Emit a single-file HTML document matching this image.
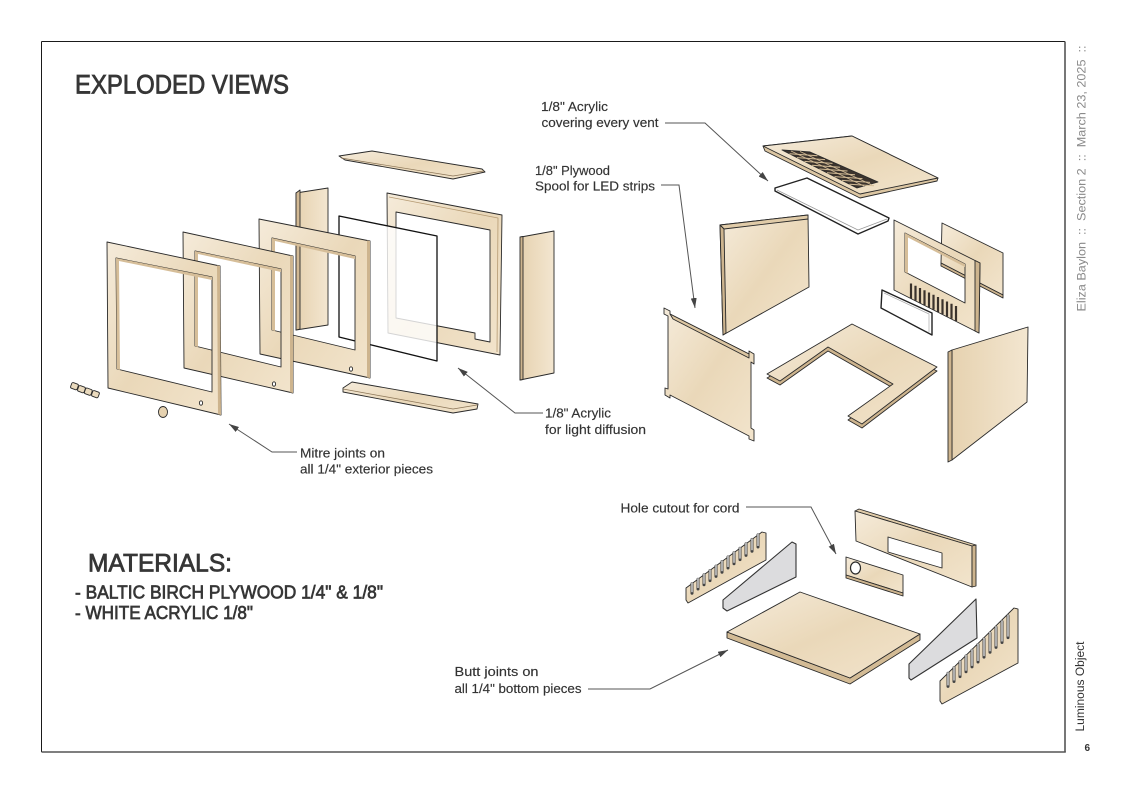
<!DOCTYPE html>
<html><head><meta charset="utf-8"><style>
html,body{margin:0;padding:0;background:#fff;}
svg{display:block;}
text{font-family:"Liberation Sans",sans-serif;}
</style></head><body>
<svg width="1122" height="793" viewBox="0 0 1122 793" xmlns="http://www.w3.org/2000/svg">
<defs>
<linearGradient id="w" x1="0" y1="0" x2="1" y2="1">
<stop offset="0" stop-color="#f5ebda"/><stop offset="0.5" stop-color="#ead8b9"/><stop offset="1" stop-color="#f2e4cc"/>
</linearGradient>
<linearGradient id="w2" x1="0" y1="0" x2="1" y2="0">
<stop offset="0" stop-color="#e6d2b0"/><stop offset="1" stop-color="#f3e6d0"/>
</linearGradient>
<marker id="ah" markerWidth="10" markerHeight="6" refX="10" refY="3" orient="auto" markerUnits="userSpaceOnUse">
<path d="M0,0 L10,3 L0,6 Z" fill="#444"/>
</marker>
</defs>
<rect width="1122" height="793" fill="#fff"/>
<!-- page frame -->
<line x1="41.5" y1="41.5" x2="1065" y2="41.5" stroke="#1a1a1a" stroke-width="1"/>
<line x1="41.5" y1="41.5" x2="41.5" y2="752" stroke="#1a1a1a" stroke-width="1"/>
<line x1="1065" y1="41.5" x2="1065" y2="752" stroke="#555" stroke-width="1.6"/>
<line x1="41.5" y1="752" x2="1065.8" y2="752" stroke="#555" stroke-width="1.6"/>

<g stroke="#2a2a2a" stroke-width="0.9" stroke-linejoin="round">
<!-- ===== LEFT GROUP ===== -->
<polygon points="521,237 554,231 554,373 520,380" fill="url(#w2)"/>
<polygon points="520,237 523,236.5 523,379.5 520,380" fill="#cdb48e"/>
<polygon points="339,156 372,151 482,169 485,172 453,179 345,160" fill="url(#w)"/>
<polyline points="341,158 453,176 484,171" fill="none" stroke="#8a7456" stroke-width="0.7"/>
<path fill-rule="evenodd" fill="url(#w)" d="M387,193 L502,215 L500,355 L388,333 Z M396,212 L490,230 L490,342 L475,339 L475,333 L396,318 Z"/>
<polyline points="389,197 498,218 497,352" fill="none" stroke="#b59a72" stroke-width="0.8"/>
<polygon points="339,216 437,236 437,361 339,337" fill="#fff" fill-opacity="0.8" stroke="#111" stroke-width="1.3"/>
<polygon points="296,193 328,188 328,325 296,330" fill="url(#w2)"/>
<polygon points="296,193 300,190 300,329 296,330" fill="#d2b994"/>
<polygon points="343,388 352,382 478,404 477,409 453,413 343,392" fill="url(#w)"/>
<polyline points="343,389 453,409 477,405" fill="none" stroke="#8a7456" stroke-width="0.7"/>
<!-- frame 3 -->
<path fill-rule="evenodd" fill="url(#w)" d="M259,219 L370,241 L370,378 L260,354 Z M272,238 L355,256 L355,350 L272,330 Z"/>
<polygon points="272,238 355,256 355,259 275,241 275,331 272,330" fill="#d6be99" stroke="none"/>
<polygon points="367,240.5 370,241 370,378 367,377.5" fill="#cdb48e" stroke="none"/>
<!-- frame 2 -->
<path fill-rule="evenodd" fill="url(#w)" d="M183,232 L293,256 L293,393 L184,368 Z M195,251 L281,269 L281,367 L195,346 Z"/>
<polygon points="195,251 281,269 281,272 198,254 198,347 195,346" fill="#d6be99" stroke="none"/>
<polygon points="290,255.4 293,256 293,393 290,392.3" fill="#cdb48e" stroke="none"/>
<!-- frame 1 -->
<path fill-rule="evenodd" fill="url(#w)" d="M107,242 L220,266 L221,415 L108,388 Z M116,258 L212,277 L212,392 L117,369 Z"/>
<polygon points="116,258 212,277 212,280 119,261 120,370 117,369" fill="#d6be99" stroke="none"/>
<polygon points="217,265.4 220,266 221,415 218,414.3" fill="#cdb48e" stroke="none"/>
<ellipse cx="201" cy="403" rx="1.6" ry="2.2" fill="#fff"/>
<ellipse cx="274" cy="384" rx="1.6" ry="2.2" fill="#fff"/>
<ellipse cx="351" cy="369" rx="1.6" ry="2.2" fill="#fff"/>
<ellipse cx="163" cy="412" rx="4.5" ry="5.5" fill="#e6d2b0"/>
<rect x="71" y="383" width="7" height="6" rx="1.5" fill="#eadabd" transform="rotate(20 74 386)"/>
<rect x="78" y="386" width="7" height="6" rx="1.5" fill="#eadabd" transform="rotate(20 81 389)"/>
<rect x="85" y="388.5" width="7" height="6" rx="1.5" fill="#eadabd" transform="rotate(20 88 391)"/>
<rect x="92" y="391" width="7" height="6" rx="1.5" fill="#eadabd" transform="rotate(20 95 394)"/>

<!-- ===== RIGHT GROUP ===== -->
<polygon points="763,146 852,136 938,178 937,181 860,198 765,151" fill="#dcc6a2"/>
<polygon points="763,146 852,136 938,178 860,194" fill="url(#w)"/>
<polygon points="782,150 810,152 878,182 857,188" fill="#3b332d"/>
<g stroke="#d2bb96" stroke-width="1">
<line x1="789.5" y1="153.8" x2="817.5" y2="155.8"/><line x1="797" y1="157.6" x2="825" y2="159.6"/>
<line x1="804.5" y1="161.4" x2="832.5" y2="163.4"/><line x1="812" y1="165.2" x2="840" y2="167.2"/>
<line x1="819.5" y1="169" x2="847.5" y2="171"/><line x1="827" y1="172.8" x2="855" y2="174.8"/>
<line x1="834.5" y1="176.6" x2="862.5" y2="178.6"/><line x1="842" y1="180.4" x2="870" y2="182.4"/>
<line x1="849.5" y1="184.2" x2="874" y2="185.8"/>
<line x1="791" y1="151" x2="864" y2="186" stroke-width="0.8"/><line x1="800" y1="151.5" x2="871" y2="184.5" stroke-width="0.8"/>
</g>
<!-- acrylic vent cover -->
<polygon points="775,188 807,178 889,218 888,221 858,234 775,191" fill="#fff" stroke="#222" stroke-width="1.4"/>
<polyline points="777,190 858,230 887,219" fill="none" stroke="#999" stroke-width="0.7"/>
<!-- left back panel -->
<polygon points="720,225 808,215 809,287 723,335" fill="url(#w)"/>
<polygon points="720,225 808,215 808,219 724,229" fill="#e0cba8"/>
<polygon points="720,225 724,229 726,333 723,335" fill="#cdb48e"/>
<!-- small back right panel -->
<polygon points="942,223 1003,253 1003,295 941,263" fill="url(#w)"/>
<polygon points="941,263 1003,295 1003,298 941,266" fill="#cdb48e"/>
<!-- right frame piece -->
<path fill-rule="evenodd" fill="url(#w)" d="M894,220 L980,263 L979,333 L894,290 Z M905,233 L965,264 L965,303 L905,272 Z"/>
<polygon points="905,233 965,264 965,267 908,237.5 908,273.5 905,272" fill="#d6be99" stroke="none"/>
<polygon points="975,260.5 980,263 979,333 975,331" fill="#cdb48e"/>
<g stroke="#3a322c" stroke-width="2.2">
<line x1="911" y1="283.5" x2="911" y2="298.5"/><line x1="915.5" y1="285.75" x2="915.5" y2="300.75"/>
<line x1="920" y1="288" x2="920" y2="303"/><line x1="924.5" y1="290.25" x2="924.5" y2="305.25"/>
<line x1="929" y1="292.5" x2="929" y2="307.5"/><line x1="933.5" y1="294.75" x2="933.5" y2="309.75"/>
<line x1="938" y1="297" x2="938" y2="312"/><line x1="942.5" y1="299.25" x2="942.5" y2="314.25"/>
<line x1="947" y1="301.5" x2="947" y2="316.5"/><line x1="951.5" y1="303.75" x2="951.5" y2="318.75"/>
<line x1="956" y1="306" x2="956" y2="321"/>
</g>
<polygon points="882,290 932,313 932,335 881,308" fill="#fff" stroke="#222" stroke-width="1.4"/>
<polyline points="884,293 929,314 929,332" fill="none" stroke="#aaa" stroke-width="0.7"/>
<!-- front-left panel with tabs -->
<polygon points="664,308 670,311 670,314 749,354 749,351 754,354 754,364 751,362 751,428 754,430 754,441 749,439 749,436 670,395 670,398 665,395 665,388 668,389 668,316 664,314" fill="url(#w)"/>
<polygon points="670,314 749,354 749,358 673,319" fill="#dcc6a2"/>
<!-- U-shaped bottom -->
<polygon points="767,378 852,328 937,371 862,428 848,420 893,388 828,351 780,385" fill="#cdb48e"/>
<polygon points="767,374 852,324 937,367 862,424 848,416 893,384 828,347 780,381" fill="url(#w)"/>
<!-- right big panel -->
<polygon points="952,350 1028,327 1027,402 952,460" fill="url(#w2)"/>
<polygon points="948,352 952,350 952,460 948,462" fill="#cdb48e"/>

<!-- ===== BOTTOM RIGHT GROUP ===== -->
<polygon points="686,588 762,532 766,533 766,560 688,603 686,600" fill="url(#w)"/>
<g stroke="#444" stroke-width="3" stroke-linecap="round">
<line x1="692" y1="583.6" x2="692" y2="593.2"/><line x1="698" y1="579.2" x2="698" y2="589"/>
<line x1="704" y1="574.8" x2="704" y2="584.8"/><line x1="710" y1="570.5" x2="710" y2="580.6"/>
<line x1="716" y1="566.1" x2="716" y2="576.4"/><line x1="722" y1="561.5" x2="722" y2="572.2"/>
<line x1="728" y1="557" x2="728" y2="568"/><line x1="734" y1="552.6" x2="734" y2="563.8"/>
<line x1="740" y1="548.2" x2="740" y2="559.6"/><line x1="746" y1="543.8" x2="746" y2="555.4"/>
<line x1="752" y1="539.4" x2="752" y2="551.2"/><line x1="758" y1="534.9" x2="758" y2="547"/>
</g>
<g stroke="#f4f4f4" stroke-width="1.2">
<line x1="692" y1="582.6" x2="692" y2="592.2"/><line x1="698" y1="578.2" x2="698" y2="588"/>
<line x1="704" y1="573.8" x2="704" y2="583.8"/><line x1="710" y1="569.5" x2="710" y2="579.6"/>
<line x1="716" y1="565.1" x2="716" y2="575.4"/><line x1="722" y1="560.5" x2="722" y2="571.2"/>
<line x1="728" y1="556" x2="728" y2="567"/><line x1="734" y1="551.6" x2="734" y2="562.8"/>
<line x1="740" y1="547.2" x2="740" y2="558.6"/><line x1="746" y1="542.8" x2="746" y2="554.4"/>
<line x1="752" y1="538.4" x2="752" y2="550.2"/><line x1="758" y1="533.9" x2="758" y2="546"/>
</g>
<polygon points="723,600 792,542 796,544 796,577 727,611 723,608" fill="#dcdcde" stroke="#333" stroke-width="1.1"/>
<!-- long piece with window -->
<polygon points="855,511 859,509 976,545 972,546" fill="#e0cba8"/>
<path fill-rule="evenodd" fill="url(#w)" d="M855,511 L972,546 L972,587 L856,541 Z M888,537 L942,553 L942,568 L888,552 Z"/>
<polygon points="972,546 976,545 976,586 972,587" fill="#cdb48e"/>
<!-- small piece with hole -->
<polygon points="846,557 903,575 903,593 846,575" fill="url(#w)"/>
<polygon points="846,575 903,593 903,596 846,578" fill="#cdb48e"/>
<ellipse cx="855.5" cy="568" rx="5" ry="6" fill="#fff" stroke-width="1.2"/>
<!-- bottom board -->
<polygon points="727,632 850,678 920,634 920,640 850,684 727,638" fill="#d3bb95"/>
<polygon points="800,592 920,634 850,678 727,632" fill="url(#w)"/>
<polygon points="976,599 977,638 911,680 909,678 909,664" fill="#dcdcde" stroke="#333" stroke-width="1.1"/>
<!-- right comb -->
<polygon points="940,681 1014,608 1018,609 1018,663 942,704 940,701" fill="url(#w)"/>
<g stroke="#444" stroke-width="3" stroke-linecap="round">
<line x1="948" y1="673.3" x2="948" y2="686.4"/><line x1="954" y1="667.6" x2="954" y2="681.5"/>
<line x1="960" y1="661.8" x2="960" y2="676.6"/><line x1="966" y1="656" x2="966" y2="671.75"/>
<line x1="972" y1="650.3" x2="972" y2="666.9"/><line x1="978" y1="644.5" x2="978" y2="662"/>
<line x1="984" y1="638.8" x2="984" y2="657.1"/><line x1="990" y1="633" x2="990" y2="652.25"/>
<line x1="996" y1="627.2" x2="996" y2="647.4"/><line x1="1002" y1="621.5" x2="1002" y2="642.5"/>
<line x1="1008" y1="615.7" x2="1008" y2="637.6"/>
</g>
<g stroke="#f4f4f4" stroke-width="1.2">
<line x1="948" y1="672.3" x2="948" y2="685.4"/><line x1="954" y1="666.6" x2="954" y2="680.5"/>
<line x1="960" y1="660.8" x2="960" y2="675.6"/><line x1="966" y1="655" x2="966" y2="670.75"/>
<line x1="972" y1="649.3" x2="972" y2="665.9"/><line x1="978" y1="643.5" x2="978" y2="661"/>
<line x1="984" y1="637.8" x2="984" y2="656.1"/><line x1="990" y1="632" x2="990" y2="651.25"/>
<line x1="996" y1="626.2" x2="996" y2="646.4"/><line x1="1002" y1="620.5" x2="1002" y2="641.5"/>
<line x1="1008" y1="614.7" x2="1008" y2="636.6"/>
</g>
</g>

<!-- connectors -->
<g fill="none" stroke="#555" stroke-width="1" marker-end="url(#ah)">
<polyline points="665,123 705,123 768,181"/>
<polyline points="661,185 679,185 695,308"/>
<polyline points="543,413 515,413 458,368"/>
<polyline points="297,452 272,452 229,424"/>
<polyline points="746,507 811,507 836,554"/>
<polyline points="588,689 650,689 728,650"/>
</g>

<!-- labels -->
<g font-size="12.5" fill="#333" stroke="#333" stroke-width="0.15">
<text x="541" y="111" textLength="67" lengthAdjust="spacingAndGlyphs">1/8" Acrylic</text>
<text x="541.5" y="127" textLength="117" lengthAdjust="spacingAndGlyphs">covering every vent</text>
<text x="535" y="175" textLength="75" lengthAdjust="spacingAndGlyphs">1/8" Plywood</text>
<text x="535" y="190.5" textLength="120" lengthAdjust="spacingAndGlyphs">Spool for LED strips</text>
<text x="545" y="417.5" textLength="66" lengthAdjust="spacingAndGlyphs">1/8" Acrylic</text>
<text x="545" y="434" textLength="101" lengthAdjust="spacingAndGlyphs">for light diffusion</text>
<text x="300" y="457.5" textLength="85" lengthAdjust="spacingAndGlyphs">Mitre joints on</text>
<text x="300" y="473.5" textLength="133" lengthAdjust="spacingAndGlyphs">all 1/4" exterior pieces</text>
<text x="620.5" y="512.5" textLength="119" lengthAdjust="spacingAndGlyphs">Hole cutout for cord</text>
<text x="454.5" y="676" textLength="84" lengthAdjust="spacingAndGlyphs">Butt joints on</text>
<text x="454.5" y="693" textLength="127" lengthAdjust="spacingAndGlyphs">all 1/4" bottom pieces</text>
</g>

<!-- headings -->
<g fill="#363636" stroke="#363636">
<text x="75" y="93.3" font-size="26.5" stroke-width="0.8" textLength="214" lengthAdjust="spacingAndGlyphs">EXPLODED VIEWS</text>
<text x="88" y="571.5" font-size="25" stroke-width="0.8" textLength="144" lengthAdjust="spacingAndGlyphs">MATERIALS:</text>
<text x="75" y="598.3" font-size="18.3" stroke-width="0.7" textLength="308" lengthAdjust="spacingAndGlyphs">- BALTIC BIRCH PLYWOOD 1/4" &amp; 1/8"</text>
<text x="75" y="619" font-size="18.3" stroke-width="0.7" textLength="178" lengthAdjust="spacingAndGlyphs">- WHITE ACRYLIC 1/8"</text>
</g>

<!-- side texts -->
<text transform="translate(1085.5,311.5) rotate(-90)" font-size="11.5" fill="#8a8a8a" textLength="266" lengthAdjust="spacingAndGlyphs" xml:space="preserve">Eliza Baylon  ::  Section 2  ::  March 23, 2025  ::</text>
<text transform="translate(1084,731.5) rotate(-90)" font-size="11.5" fill="#333" textLength="90" lengthAdjust="spacingAndGlyphs">Luminous Object</text>
<text x="1084.5" y="751" font-size="10" font-weight="bold" fill="#333">6</text>
</svg>
</body></html>
